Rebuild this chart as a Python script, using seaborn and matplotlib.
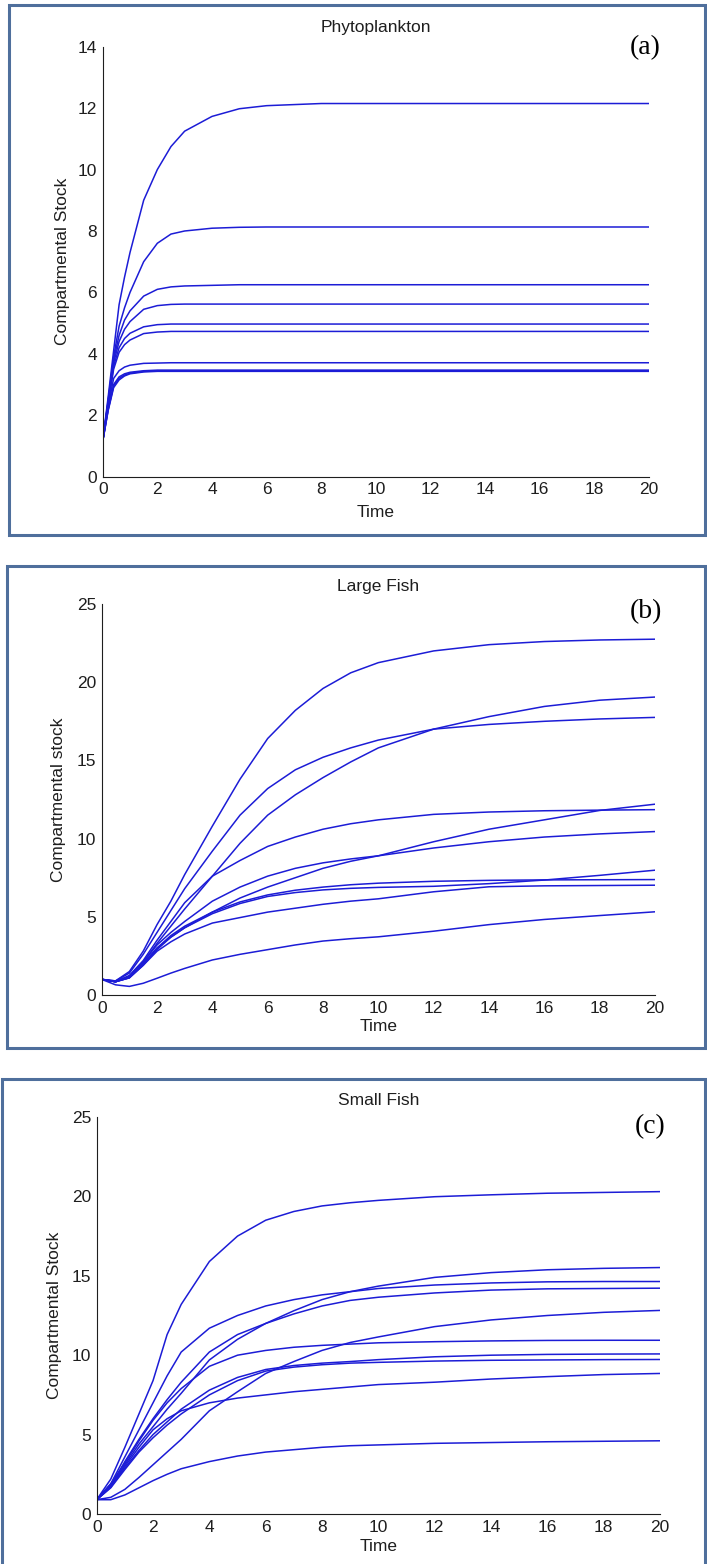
import numpy as np
import pandas as pd
import matplotlib
matplotlib.use("Agg")
import matplotlib.pyplot as plt
import seaborn as sns
from matplotlib import font_manager as fm
from matplotlib.patches import Rectangle

# ---------------- data ----------------
time_a = [0, 0.2, 0.4, 0.6, 0.8, 1.0, 1.5, 2.0, 2.5, 3.0, 4.0, 5.0, 6.0, 8.0, 20.0]
phyto_curves = [
    [1.15, 2.6, 4.1, 5.6, 6.5, 7.3, 9.0, 10.0, 10.75, 11.25, 11.73, 11.98, 12.08, 12.15, 12.15],
    [1.15, 2.5, 3.9, 4.9, 5.5, 6.0, 7.0, 7.6, 7.9, 8.0, 8.09, 8.12, 8.13, 8.13, 8.13],
    [1.15, 2.45, 3.8, 4.6, 5.1, 5.4, 5.88, 6.1, 6.18, 6.21, 6.23, 6.25, 6.25, 6.25, 6.25],
    [1.15, 2.4, 3.7, 4.4, 4.8, 5.05, 5.45, 5.57, 5.61, 5.62, 5.62, 5.62, 5.62, 5.62, 5.62],
    [1.15, 2.4, 3.6, 4.2, 4.5, 4.67, 4.88, 4.95, 4.97, 4.97, 4.97, 4.97, 4.97, 4.97, 4.97],
    [1.15, 2.35, 3.5, 4.05, 4.3, 4.45, 4.66, 4.71, 4.73, 4.73, 4.73, 4.73, 4.73, 4.73, 4.73],
    [1.15, 2.3, 3.2, 3.45, 3.57, 3.63, 3.69, 3.70, 3.71, 3.71, 3.71, 3.71, 3.71, 3.71, 3.71],
    [1.15, 2.2, 3.0, 3.25, 3.35, 3.4, 3.45, 3.47, 3.47, 3.47, 3.47, 3.47, 3.47, 3.47, 3.47],
    [1.15, 2.18, 2.95, 3.2, 3.31, 3.37, 3.43, 3.45, 3.45, 3.45, 3.45, 3.45, 3.45, 3.45, 3.45],
    [1.15, 2.15, 2.9, 3.15, 3.28, 3.35, 3.41, 3.43, 3.43, 3.43, 3.43, 3.43, 3.43, 3.43, 3.43],
]

time_bc = [0, 0.5, 1, 1.5, 2, 2.5, 3, 4, 5, 6, 7, 8, 9, 10, 12, 14, 16, 18, 20]
large_fish_curves = [
    [1.0, 0.9, 1.5, 2.8, 4.5, 6.0, 7.7, 10.8, 13.8, 16.4, 18.2, 19.6, 20.6, 21.25, 22.0, 22.4, 22.6, 22.7, 22.75],
    [1.0, 0.9, 1.4, 2.6, 4.0, 5.4, 6.8, 9.2, 11.5, 13.2, 14.4, 15.2, 15.8, 16.3, 17.0, 17.3, 17.5, 17.65, 17.75],
    [1.0, 0.85, 1.2, 2.1, 3.3, 4.4, 5.5, 7.6, 9.7, 11.5, 12.8, 13.9, 14.9, 15.8, 17.0, 17.8, 18.45, 18.85, 19.05],
    [1.0, 0.85, 1.25, 2.2, 3.5, 4.7, 5.9, 7.6, 8.6, 9.5, 10.1, 10.6, 10.95, 11.2, 11.55, 11.7, 11.78, 11.82, 11.85],
    [1.0, 0.85, 1.15, 2.0, 3.0, 3.7, 4.3, 5.3, 6.2, 6.9, 7.5, 8.1, 8.55, 8.9, 9.8, 10.6, 11.2, 11.8, 12.2],
    [1.0, 0.85, 1.2, 2.1, 3.2, 4.0, 4.7, 6.0, 6.9, 7.6, 8.1, 8.45, 8.7, 8.9, 9.4, 9.8, 10.1, 10.3, 10.45],
    [1.0, 0.85, 1.1, 1.9, 2.9, 3.7, 4.3, 5.2, 5.85, 6.3, 6.55, 6.72, 6.82, 6.88, 6.95, 7.12, 7.35, 7.65, 7.98],
    [1.0, 0.85, 1.1, 2.0, 3.0, 3.8, 4.4, 5.3, 5.95, 6.4, 6.7, 6.9, 7.05, 7.15, 7.27, 7.33, 7.36, 7.37, 7.38],
    [1.0, 0.85, 1.1, 1.9, 2.8, 3.4, 3.9, 4.6, 4.95, 5.3, 5.55, 5.8, 6.0, 6.15, 6.6, 6.92, 6.98, 7.0, 7.02],
    [1.0, 0.65, 0.55, 0.75, 1.07, 1.4, 1.7, 2.24, 2.6, 2.9, 3.2, 3.45, 3.6, 3.72, 4.08, 4.5, 4.83, 5.08, 5.32],
]

small_fish_curves = [
    [0.9, 2.2, 4.2, 6.3, 8.4, 11.3, 13.2, 15.9, 17.5, 18.5, 19.05, 19.4, 19.6, 19.75, 19.98, 20.1, 20.2, 20.25, 20.3],
    [0.9, 1.9, 3.6, 5.3, 7.0, 8.7, 10.2, 11.7, 12.5, 13.1, 13.5, 13.8, 14.0, 14.2, 14.42, 14.55, 14.62, 14.64, 14.64],
    [0.9, 1.8, 3.3, 4.7, 6.0, 7.2, 8.3, 10.2, 11.3, 12.0, 12.8, 13.5, 14.0, 14.35, 14.9, 15.2, 15.38, 15.47, 15.52],
    [0.9, 1.7, 3.1, 4.4, 5.5, 6.6, 7.6, 9.7, 11.0, 12.0, 12.6, 13.1, 13.45, 13.65, 13.92, 14.1, 14.18, 14.2, 14.22],
    [0.9, 1.05, 1.55, 2.3, 3.1, 3.9, 4.7, 6.5, 7.7, 8.85, 9.6, 10.3, 10.8, 11.15, 11.8, 12.22, 12.5, 12.7, 12.82],
    [0.9, 1.9, 3.2, 4.6, 5.9, 7.0, 7.9, 9.3, 10.0, 10.3, 10.5, 10.62, 10.7, 10.78, 10.85, 10.9, 10.93, 10.94, 10.94],
    [0.9, 1.7, 2.9, 4.0, 5.0, 5.8, 6.6, 7.8, 8.6, 9.1, 9.35, 9.5, 9.6, 9.72, 9.9, 10.0, 10.05, 10.07, 10.08],
    [0.9, 1.65, 2.8, 3.9, 4.8, 5.6, 6.3, 7.5, 8.4, 9.0, 9.25, 9.4, 9.5, 9.55, 9.63, 9.68, 9.7, 9.72, 9.73],
    [0.9, 1.8, 3.0, 4.2, 5.3, 6.0, 6.5, 7.0, 7.3, 7.5, 7.7, 7.85, 8.0, 8.15, 8.3, 8.5, 8.65, 8.78, 8.85],
    [0.9, 0.9, 1.2, 1.65, 2.1, 2.5, 2.85, 3.3, 3.65, 3.9, 4.05, 4.2, 4.3, 4.35, 4.45, 4.5, 4.55, 4.58, 4.61],
]

titles = ["Phytoplankton", "Large Fish", "Small Fish"]
ylabels = ["Compartmental Stock", "Compartmental stock", "Compartmental Stock"]
panel_tags = ["(a)", "(b)", "(c)"]
x_ticks = list(range(0, 21, 2))
y_ticks_a = list(range(0, 15, 2))
y_ticks_bc = list(range(0, 26, 5))

# ---------------- style ----------------
sns.set_theme(style="white")
names = {f.name for f in fm.fontManager.ttflist}
narrow = "Liberation Sans Narrow" in names
SANS = "Liberation Sans Narrow" if narrow else "Liberation Sans"
FS = 14.5 if narrow else 12.5
plt.rcParams["font.family"] = [SANS, "DejaVu Sans"]

BLUE = "#1c1cd6"
TXT = "#1e1e1e"
BORDER = "#4f6f9c"

W, H = 707, 1564
fig = plt.figure(figsize=(W / 100, H / 100), dpi=100)


def px_rect(left, top, right, bottom):
    return [left / W, 1 - bottom / H, (right - left) / W, (bottom - top) / H]


def long_df(t, curves):
    rows = []
    for i, c in enumerate(curves):
        for tt, v in zip(t, c):
            rows.append({"Time": tt, "Stock": v, "curve": i})
    return pd.DataFrame(rows)


panels = [
    dict(rect=px_rect(102.7, 46.7, 649, 476.7), t=time_a, curves=phyto_curves, ymax=14,
         yt=y_ticks_a, title_y=1.0447, xl_y=-0.0835, yl_x=-0.0727, tag=(0.9938, 0.997),
         box=(9, 5, 705, 535)),
    dict(rect=px_rect(101.7, 604, 655, 995), t=time_bc, curves=large_fish_curves, ymax=25,
         yt=y_ticks_bc, title_y=1.0445, xl_y=-0.0806, yl_x=-0.0779, tag=(0.983, 0.981),
         box=(7, 566, 705, 1048)),
    dict(rect=px_rect(96.7, 1117, 660, 1514), t=time_bc, curves=small_fish_curves, ymax=25,
         yt=y_ticks_bc, title_y=1.0428, xl_y=-0.082, yl_x=-0.0758, tag=(0.9833, 0.9756),
         box=(2, 1079, 705, 1575)),
]

for i, p in enumerate(panels):
    # panel frame
    l, t, r, b = p["box"]
    fig.patches.append(Rectangle((l / W, 1 - b / H), (r - l) / W, (b - t) / H,
                                 transform=fig.transFigure, fill=False,
                                 edgecolor=BORDER, linewidth=2.2, zorder=0))
    ax = fig.add_axes(p["rect"])
    df = long_df(p["t"], p["curves"])
    sns.lineplot(data=df, x="Time", y="Stock", units="curve", estimator=None,
                 color=BLUE, linewidth=1.1, ax=ax, legend=False)
    ax.set_xlim(0, 20)
    ax.set_ylim(0, p["ymax"])
    ax.set_xticks(x_ticks)
    ax.set_yticks(p["yt"])
    ax.set_xticklabels([str(v) for v in x_ticks])
    ax.set_yticklabels([str(v) for v in p["yt"]])
    for s in ["top", "right"]:
        ax.spines[s].set_visible(False)
    for s in ["left", "bottom"]:
        ax.spines[s].set_color(TXT)
        ax.spines[s].set_linewidth(0.8)
    ax.tick_params(axis="both", direction="in", length=4, width=0.8, colors=TXT,
                   labelsize=FS)
    ax.tick_params(axis="x", pad=4)
    ax.tick_params(axis="y", pad=4)
    ax.set_xlabel("Time", fontsize=FS, color=TXT)
    ax.set_ylabel(ylabels[i], fontsize=FS, color=TXT)
    ax.xaxis.label.set_va("center")
    ax.yaxis.label.set_va("center")
    ax.xaxis.set_label_coords(0.5, p["xl_y"])
    ax.yaxis.set_label_coords(p["yl_x"], 0.5)
    ax.set_title(titles[i], fontsize=FS, color=TXT, y=p["title_y"], va="center", pad=0)
    ax.text(p["tag"][0], p["tag"][1], panel_tags[i], transform=ax.transAxes,
            ha="center", va="center", fontsize=20, family=["Liberation Serif", "DejaVu Serif"],
            color="black")
    ax.set_facecolor("white")

fig.savefig("out.png", dpi=100, facecolor="white")
